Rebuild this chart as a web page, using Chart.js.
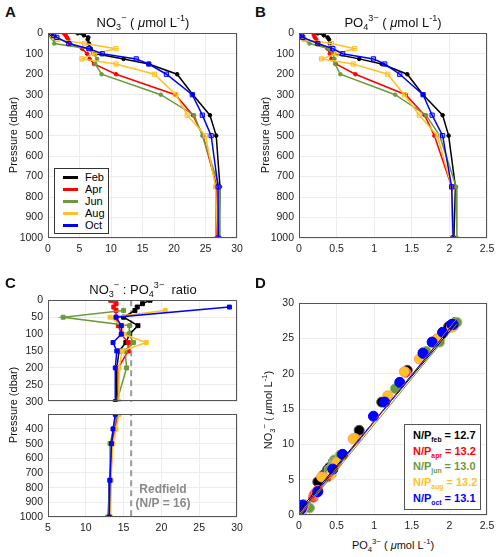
<!DOCTYPE html>
<html>
<head>
<meta charset="utf-8">
<script src="https://cdn.jsdelivr.net/npm/chart.js@4.4.1/dist/chart.umd.min.js"></script>
<style>
  body { margin: 0; background: #fff; font-family: "Liberation Sans", Arial, sans-serif; }
  #page { position: relative; width: 500px; height: 557px; overflow: hidden; }
  canvas { position: absolute; }
  .txt { position: absolute; white-space: nowrap; color: #111; }
  .letter { font-weight: bold; font-size: 15px; }
  .title { font-size: 13px; transform: translate(-50%, -50%); }
  .axt { font-size: 11px; transform: translate(-50%, -50%); }
  .rot { transform: translate(-50%, -50%) rotate(-90deg); }
  sub, sup { font-size: 70%; line-height: 0; }
  .legA { position: absolute; left: 54px; top: 168px; width: 53px; height: 64px; border: 1px solid #333; background: #fff; font-size: 11px; }
  .legA div { position: absolute; left: 30px; }
  .legA span { position: absolute; left: 8px; width: 15px; height: 3px; }
  .legD { position: absolute; left: 404px; top: 424px; width: 75px; height: 84px; border: 1px solid #555; background: #fff; font-size: 11px; font-weight: bold; }
  .legD div { position: absolute; left: 8px; white-space: nowrap; }
  .legD sub { font-size: 62%; }
  .redf { font-weight: bold; font-size: 12px; color: #8a8a8a; text-align: center; transform: translate(-50%, 0); }
</style>
</head>
<body>
<div id="page">
  <canvas id="chartA" width="250" height="236" style="left:0px;top:22px"></canvas>
  <canvas id="chartB" width="249" height="236" style="left:251px;top:22px"></canvas>
  <canvas id="chartC1" width="250" height="124" style="left:0px;top:289px"></canvas>
  <canvas id="chartC2" width="250" height="134" style="left:0px;top:403px"></canvas>
  <canvas id="chartD" width="249" height="243" style="left:251px;top:292px"></canvas>

  <div class="txt letter" style="left:5px;top:3px">A</div>
  <div class="txt letter" style="left:255px;top:3px">B</div>
  <div class="txt letter" style="left:5px;top:274px">C</div>
  <div class="txt letter" style="left:255px;top:274px">D</div>

  <div class="txt title" style="left:143px;top:22px">NO<sub>3</sub><sup>−</sup> ( <i>μ</i>mol L<sup>-1</sup>)</div>
  <div class="txt title" style="left:393px;top:22px">PO<sub>4</sub><sup>3−</sup> ( <i>μ</i>mol L<sup>-1</sup>)</div>
  <div class="txt title" style="left:143px;top:289px">NO<sub>3</sub><sup>−</sup> : PO<sub>4</sub><sup>3−</sup> &nbsp;ratio</div>

  <div class="txt axt rot" style="left:13px;top:135px">Pressure (dbar)</div>
  <div class="txt axt rot" style="left:265px;top:135px">Pressure (dbar)</div>
  <div class="txt axt rot" style="left:13px;top:405px">Pressure (dbar)</div>
  <div class="txt axt rot" style="left:268px;top:410px">NO<sub>3</sub><sup>−</sup> ( <i>μ</i>mol L<sup>-1</sup>)</div>
  <div class="txt axt" style="left:393px;top:545px">PO<sub>4</sub><sup>3−</sup> ( <i>μ</i>mol L<sup>-1</sup>)</div>

  <div class="txt redf" style="left:163px;top:482px">Redfield<br>(N/P = 16)</div>

  <div class="legA">
    <span style="top:7px;background:#000"></span><div style="top:2px">Feb</div>
    <span style="top:19px;background:#ff0000"></span><div style="top:14px">Apr</div>
    <span style="top:31px;background:#6b9a3b"></span><div style="top:26px">Jun</div>
    <span style="top:43px;background:#ffc125"></span><div style="top:38px">Aug</div>
    <span style="top:55px;background:#0000ff"></span><div style="top:50px">Oct</div>
  </div>

  <div class="legD">
    <div style="top:4px;color:#000">N/P<sub>feb</sub> = 12.7</div>
    <div style="top:20px;color:#ff0000">N/P<sub>apr</sub> = 13.2</div>
    <div style="top:35px;color:#6b9a3b">N/P<sub>jun</sub> = 13.0</div>
    <div style="top:51px;color:#ffc125">N/P<sub>aug</sub> = 13.2</div>
    <div style="top:67px;color:#0000ff">N/P<sub>oct</sub> = 13.1</div>
  </div>
</div>

<script>
// sampling depths (dbar)
const depths = [0, 10, 20, 30, 50, 75, 100, 125, 150, 200, 300, 400, 500, 750, 1000];

// nitrate (umol/L)
const no3Feb = [4.7, 5.7, 6.4, 6.3, 6.5, 6.8, 7.6, 12.0, 16.0, 20.5, 23.0, 25.7, 26.7, 27.3, 27.1];
const no3Apr = [2.5, 2.8, 3.0, 3.2, 3.5, 5.4, 6.2, 6.6, 7.3, 10.8, 20.2, 23.0, 24.6, 26.8, 26.7];
const no3Jun = [0.2, 0.4, 0.6, 0.9, 1.0, 6.4, 7.2, 7.8, 7.5, 8.5, 17.9, 23.2, 24.5, 27.2, 27.3];
const no3Aug = [0.5, 0.8, 1.0, 1.5, 5.8, 10.8, 7.4, 5.4, 10.8, 16.9, 20.3, 22.1, 25.0, 26.6, 26.9];
const no3Oct = [0.6, 0.9, 1.4, null, 3.3, 6.5, 8.6, 14.0, 16.0, 18.8, 22.9, 24.5, 25.9, 27.0, 27.0];

// phosphate (umol/L)
const po4Feb = [0.25, 0.33, 0.38, 0.40, 0.41, 0.41, 0.46, 0.80, 1.10, 1.44, 1.65, 1.91, 1.99, 2.08, 2.06];
const po4Apr = [0.19, 0.20, 0.21, 0.23, 0.25, 0.38, 0.41, 0.43, 0.49, 0.75, 1.42, 1.67, 1.80, 2.03, 2.05];
const po4Jun = [0.00, 0.02, 0.04, 0.06, 0.14, 0.40, 0.45, 0.47, 0.48, 0.55, 1.28, 1.69, 1.87, 2.09, 2.10];
const po4Aug = [0.02, 0.04, 0.05, 0.07, 0.43, 0.74, 0.50, 0.30, 0.72, 1.18, 1.40, 1.60, 1.84, 2.03, 2.04];
const po4Oct = [0.00, 0.03, 0.05, null, 0.25, 0.45, 0.58, 0.99, 1.14, 1.34, 1.65, 1.77, 1.91, 2.03, 2.05];

// N:P ratio
const npFeb = [18.5, 17.5, 16.8, 16.5, 15.0, 16.9, 15.8, 15.3, 14.4, 14.1, 14.0, 13.8, 13.4, 13.2, 13.1];
const npApr = [13.3, 14.0, 13.7, 14.0, 14.0, 14.3, 14.7, 15.6, 15.6, 14.3, 14.2, 13.9, 13.5, 13.3, 13.2];
const npJun = [null, null, null, 15.0, 7.0, 15.8, 15.7, 16.3, 15.2, 15.4, 14.1, 13.7, 13.2, 13.2, 12.9];
const npAug = [null, null, null, 20.5, 13.2, 14.8, 15.0, 18.0, 14.8, 14.4, 14.4, 14.0, 13.6, 13.3, 13.3];
const npOct = [null, null, 29.0, null, 14.0, 14.7, 14.7, 13.6, 14.1, 13.9, 13.9, 13.6, 13.4, 13.2, 13.1];
const redfield = 16;

// regression N/P slopes and intercepts (panel D)
const fitSlopes = [12.7, 13.2, 13.0, 13.2, 13.1];
const fitIntercepts = [0.6, 0.0, -0.2, 0.1, 0.2];
const fitRange = [0, 2.1];

const months = ['Feb', 'Apr', 'Jun', 'Aug', 'Oct'];
const colors = ['#000000', '#ff0000', '#6b9a3b', '#ffc125', '#0000ff'];
const lightFill = ['#000000', '#ff0000', '#6b9a3b', 'rgba(255,193,37,0.35)', 'rgba(0,0,255,0.25)'];
const dotEdge = ['#555555', '#ff8a8a', '#a8bd8e', '#ff9f6b', '#0000ff'];

const no3 = [no3Feb, no3Apr, no3Jun, no3Aug, no3Oct];
const po4 = [po4Feb, po4Apr, po4Jun, po4Aug, po4Oct];
const ratio = [npFeb, npApr, npJun, npAug, npOct];

Chart.defaults.font.family = '"Liberation Sans", Arial, sans-serif';
Chart.defaults.font.size = 10.5;
Chart.defaults.color = '#222';

const boxPlugin = {
    id: 'box',
    afterDraw(chart) {
        const a = chart.chartArea;
        const c = chart.ctx;
        c.save();
        c.strokeStyle = '#555';
        c.lineWidth = 1;
        c.strokeRect(Math.round(a.left) + 0.5, Math.round(a.top) + 0.5, Math.round(a.right - a.left) - 1, Math.round(a.bottom - a.top) - 1);
        c.restore();
    }
};

function profile(values) {
    const pts = [];
    values.forEach((v, i) => {
        if (v !== null) pts.push({ x: v, y: depths[i] });
    });
    return pts;
}

function profileSets(series, squares) {
    return series.map((vals, k) => {
        const sq = squares === 'all' || (squares === 'some' && k >= 3);
        return {
            label: months[k],
            data: profile(vals),
            showLine: true,
            borderColor: colors[k],
            borderWidth: 1.5,
            pointStyle: sq ? 'rect' : 'circle',
            pointRadius: sq ? 3 : 1.8,
            pointBorderWidth: 1,
            pointBorderColor: colors[k],
            pointBackgroundColor: squares === 'all' ? colors[k] : (sq ? lightFill[k] : colors[k]),
            order: 4 - k,
        };
    });
}

function axisX(min, max, step, showLabels, height) {
    return {
        type: 'linear', min: min, max: max,
        border: { display: false },
        grid: { color: '#ececec', drawTicks: false },
        ticks: { stepSize: step, display: showLabels, autoSkip: false, padding: 5, maxRotation: 0, callback: v => String(v) },
        afterFit: s => { s.height = height; },
    };
}

function axisY(min, max, step, reverse, hide) {
    return {
        type: 'linear', min: min, max: max, reverse: reverse,
        border: { display: false },
        grid: { color: '#ececec', drawTicks: false },
        ticks: { stepSize: step, autoSkip: false, padding: 5, callback: v => (hide !== undefined && v === hide) ? '' : String(v) },
        afterFit: s => { s.width = 48; },
    };
}

function baseOptions(x, y, padTop) {
    return {
        responsive: false,
        animation: false,
        devicePixelRatio: 1,
        layout: { padding: { top: padTop, right: 13, left: 0, bottom: 0 } },
        plugins: { legend: { display: false }, tooltip: { enabled: false } },
        scales: { x: x, y: y },
    };
}

// Panel A
new Chart(document.getElementById('chartA'), {
    type: 'scatter',
    data: { datasets: profileSets(no3, 'some') },
    options: baseOptions(axisX(0, 30, 5, true, 20), axisY(0, 1000, 100, true), 10),
    plugins: [boxPlugin],
});

// Panel B
new Chart(document.getElementById('chartB'), {
    type: 'scatter',
    data: { datasets: profileSets(po4, 'some') },
    options: baseOptions(axisX(0, 2.5, 0.5, true, 20), axisY(0, 1000, 100, true), 10),
    plugins: [boxPlugin],
});

// Panel C (broken depth axis)
function ratioSets() {
    const sets = profileSets(ratio, 'all');
    sets.forEach(s => { s.pointRadius = 2.8; });
    sets.push({
        label: 'Redfield',
        data: [{ x: redfield, y: 0 }, { x: redfield, y: 1000 }],
        showLine: true,
        borderColor: '#9a9a9a',
        borderWidth: 2,
        borderDash: [6, 4],
        pointRadius: 0,
        order: 10,
    });
    return sets;
}

new Chart(document.getElementById('chartC1'), {
    type: 'scatter',
    data: { datasets: ratioSets() },
    options: baseOptions(axisX(5, 30, 5, false, 8), axisY(0, 300, 50, true), 10),
    plugins: [boxPlugin],
});

new Chart(document.getElementById('chartC2'), {
    type: 'scatter',
    data: { datasets: ratioSets() },
    options: baseOptions(axisX(5, 30, 5, true, 20), axisY(300, 1000, 100, true, 300), 6),
    plugins: [boxPlugin],
});

// Panel D
const dSets = [];
no3.forEach((vals, k) => {
    const pts = [];
    vals.forEach((v, i) => {
        if (v !== null && po4[k][i] !== null) pts.push({ x: po4[k][i], y: v });
    });
    dSets.push({
        label: months[k],
        data: pts,
        pointStyle: 'circle',
        pointRadius: 5,
        pointBorderWidth: 1,
        pointBackgroundColor: colors[k],
        pointBorderColor: dotEdge[k],
        order: 10 - k,
    });
    dSets.push({
        label: months[k] + ' fit',
        data: fitRange.map(p => ({ x: p, y: fitIntercepts[k] + fitSlopes[k] * p })),
        showLine: true,
        borderColor: colors[k],
        borderWidth: 1,
        pointRadius: 0,
        order: -k,
    });
});

new Chart(document.getElementById('chartD'), {
    type: 'scatter',
    data: { datasets: dSets },
    options: baseOptions(axisX(0, 2.5, 0.5, true, 20), axisY(0, 30, 5, false), 10),
    plugins: [boxPlugin],
});
</script>
</body>
</html>
